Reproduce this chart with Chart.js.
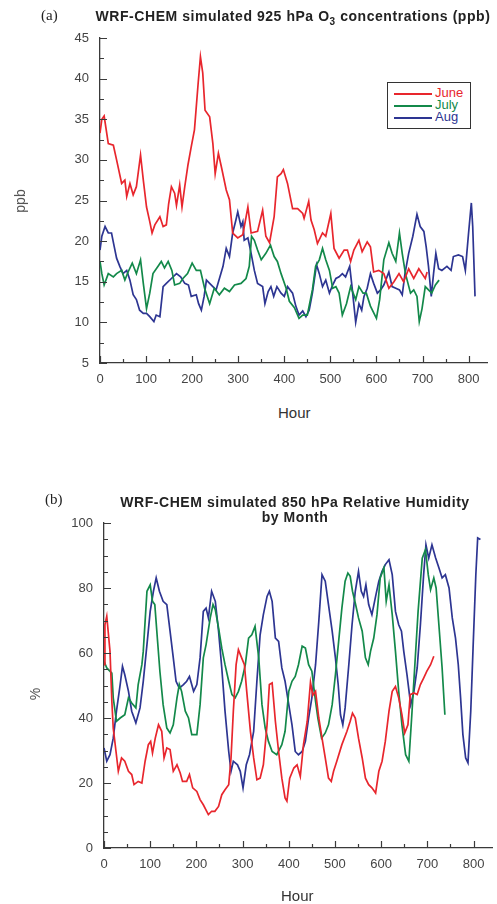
<!DOCTYPE html>
<html lang="en">
<head>
<meta charset="UTF-8">
<title>WRF-CHEM 925 hPa O3 and 850 hPa RH</title>
<script src="https://cdn.jsdelivr.net/npm/chart.js"></script>
<style>
  body { margin: 0; background: #fff; font-family: "Liberation Sans", Arial, sans-serif; color: #333; }
  #page { position: relative; width: 497px; height: 904px; overflow: hidden; }
  canvas { position: absolute; left: 0; }
  .lbl { position: absolute; white-space: nowrap; }
  .panel { font-family: "Liberation Serif", serif; font-size: 15px; color: #222; }
  .title { font-weight: bold; font-size: 14px; letter-spacing: 0.55px; color: #222; text-align: center; line-height: 15px; }
  .axis { font-size: 15px; font-weight: normal; color: #333; }
  .rot { transform: rotate(-90deg); transform-origin: center center; font-size: 14px; color: #555; }
  #legend { position: absolute; left: 387px; top: 82px; width: 82px; height: 45px; border: 1.5px solid #333; background: #fff; }
  #legend div { position: absolute; left: 6px; height: 12px; font-size: 13px; line-height: 12px; }
  #legend span.ln { display: inline-block; width: 38px; height: 2px; vertical-align: middle; margin-right: 3px; }
</style>
</head>
<body>
<div id="page">
  <canvas id="chartA" width="497" height="400" style="top:0"></canvas>
  <canvas id="chartB" width="497" height="434" style="top:470px"></canvas>

  <div class="lbl panel" style="left:41px; top:7px">(a)</div>
  <div class="lbl title" style="left:88px; width:410px; top:9px">WRF-CHEM simulated 925 hPa O<sub style="font-size:10px; line-height:0">3</sub> concentrations (ppb)</div>
  <div class="lbl axis rot" style="left:6px; top:193px; width:28px; text-align:center">ppb</div>
  <div class="lbl axis" style="left:278px; top:404px">Hour</div>

  <div class="lbl panel" style="left:45px; top:491px">(b)</div>
  <div class="lbl title" style="left:90px; width:410px; top:495px">WRF-CHEM simulated 850 hPa Relative Humidity<br>by Month</div>
  <div class="lbl axis rot" style="left:26px; top:686px; width:18px; text-align:center">%</div>
  <div class="lbl axis" style="left:281px; top:887px">Hour</div>

  <div id="legend"></div>
</div>
<script>
// colours of the three months
const monthNames = ['June', 'July', 'Aug'];
const monthColors = ['#e8262d', '#13894a', '#2d3592'];
const axisColor = '#3a3a3a';

// x axis (hours) ticks
const hourMax = 840;
const hourStep = 50;

// (a) 925 hPa O3, ppb
const juneO3Hours = [0,4,9,18,29,36,47,54,58,65,72,79,88,94,101,108,113,119,130,137,144,149,155,162,166,173,178,184,191,198,205,213,218,223,228,238,245,250,257,264,274,281,288,299,310,321,328,342,353,360,368,378,385,393,398,407,418,429,440,443,453,458,465,472,483,490,501,508,519,530,537,544,551,562,569,580,587,594,605,616,627,638,649,659,670,681,692,699,706,710];
const juneO3 = [33.3,35.0,35.4,32.0,31.8,30.0,27.1,27.5,25.5,27.1,25.7,26.7,30.6,27.5,24.2,22.4,21.0,22.0,23.0,21.8,22.0,24.6,26.7,25.9,24.4,26.9,24.2,26.7,29.4,31.6,33.7,39.4,42.7,40.7,36.1,35.3,32.0,28.3,30.8,29.0,26.3,25.1,21.0,20.4,20.8,24.2,21.0,21.2,23.8,20.6,19.8,23.0,27.9,28.3,28.8,27.1,24.0,24.0,23.4,22.8,24.9,22.6,21.4,19.7,21.0,20.6,23.4,19.1,17.9,18.9,18.9,17.5,18.9,20.1,18.7,19.9,19.3,16.2,16.4,16.0,14.2,15.0,16.0,15.0,16.6,15.4,16.6,16.0,15.4,16.2];

const julyO3Hours = [0,4,9,18,29,36,47,54,61,70,79,88,94,101,108,115,126,133,140,148,156,162,173,180,190,200,209,218,227,238,248,259,270,281,292,306,317,324,329,335,342,350,360,370,378,385,393,404,411,422,432,440,450,461,468,476,483,490,498,505,512,519,526,535,544,555,562,571,578,587,600,607,616,627,634,642,650,656,663,674,681,688,693,699,706,713,720,728,736];
const julyO3 = [17.5,16.0,14.6,16.0,15.6,16.0,16.4,15.2,16.2,17.3,16.0,17.7,14.8,11.7,13.6,16.0,16.9,17.5,16.7,17.5,16.4,14.6,14.8,15.4,16.0,17.3,16.4,16.4,14.2,12.3,14.2,13.4,14.2,13.8,14.6,14.8,15.4,16.9,20.6,20.1,18.9,17.7,18.5,19.5,18.1,17.5,16.0,14.2,12.6,11.8,10.5,10.9,10.9,14.0,16.9,17.7,19.1,17.7,16.4,14.2,14.4,13.6,10.9,12.3,14.4,12.8,14.4,13.6,13.6,12.0,10.5,12.8,17.7,19.8,18.5,17.5,21.0,18.5,16.0,13.6,14.0,13.2,10.1,11.7,14.4,14.0,13.6,14.6,15.2];

const augO3Hours = [0,4,11,18,25,31,36,43,50,58,65,72,79,86,94,101,108,117,122,130,137,144,155,166,175,184,192,198,209,214,220,226,231,238,252,267,274,281,288,295,299,306,310,313,321,328,335,342,353,358,365,371,377,384,393,400,407,418,425,432,440,447,454,461,470,476,483,490,498,505,512,519,526,533,542,547,555,562,568,573,580,587,594,602,609,616,623,627,634,642,650,656,662,670,679,688,695,703,708,713,719,724,729,735,742,753,762,767,778,787,793,800,806,809,814];
const augO3 = [18.9,20.6,21.8,21.0,21.0,19.3,17.9,16.9,16.0,16.4,15.2,13.4,12.8,11.5,11.1,11.1,10.7,10.1,10.9,10.7,14.4,14.8,15.4,16.0,15.6,14.8,14.6,13.2,13.4,12.3,11.5,13.2,15.2,14.8,14.0,16.9,19.1,18.1,21.0,22.6,23.6,21.8,22.4,20.1,20.4,18.5,16.4,14.8,14.4,12.3,13.8,14.4,13.2,14.4,13.6,13.2,14.4,13.6,12.0,10.9,11.4,10.7,11.5,13.6,17.1,16.0,14.4,15.2,13.6,14.6,15.4,15.6,16.0,15.6,16.9,14.4,10.0,12.3,11.5,13.2,14.2,16.0,14.8,13.6,14.0,14.6,15.6,16.2,14.4,14.2,14.0,13.4,16.0,18.5,20.6,23.3,21.8,21.2,19.3,16.9,13.2,16.0,18.5,16.6,16.4,16.9,16.4,18.1,18.3,18.1,16.4,21.0,24.7,21.8,13.2];

// (b) 850 hPa relative humidity, %
const juneRHHours = [0,2,6,9,13,17,20,26,31,38,45,53,60,65,74,82,89,96,101,105,111,118,125,130,136,143,150,158,165,170,179,185,192,201,208,215,226,233,240,248,255,262,270,275,280,286,291,298,304,309,317,324,331,338,345,353,358,364,371,378,385,392,396,402,411,418,425,432,440,447,452,458,465,472,479,486,492,497,504,515,526,533,538,544,551,559,566,573,580,588,595,602,609,617,624,631,638,645,651,658,663,671,678,685,692,699,707,714];
const juneRH = [56.4,68.7,71.3,66.7,60.5,45.1,36.9,29.7,23.6,27.7,26.7,23.6,22.6,19.5,20.5,20.0,26.7,31.8,32.8,29.2,33.8,37.9,35.9,27.7,30.8,30.3,23.6,25.6,23.1,20.5,20.5,22.6,18.5,17.4,14.9,13.3,10.3,11.3,11.3,12.8,16.4,17.9,19.5,27.7,42.1,56.4,61.0,58.5,56.4,48.2,35.9,27.7,21.0,21.5,25.6,37.9,50.3,50.8,39.0,29.7,21.5,15.4,14.4,21.5,24.6,25.6,22.0,32.0,39.0,51.0,47.0,48.2,40.0,33.8,27.7,21.5,20.5,23.6,26.7,31.8,35.9,39.0,41.5,40.0,33.8,27.7,21.5,19.5,18.5,16.9,23.6,26.7,32.8,42.1,48.2,49.7,46.2,41.0,35.4,37.9,47.2,47.7,47.2,50.3,52.3,54.4,56.4,59.0];

const julyRHHours = [0,6,17,20,27,35,45,53,60,69,74,82,85,93,100,105,110,116,121,128,136,143,150,158,163,168,176,183,190,201,208,215,221,230,236,241,248,255,262,270,277,284,291,298,306,313,320,327,335,342,349,356,364,374,385,392,400,407,414,421,429,436,443,450,458,463,471,479,486,494,501,508,515,522,528,533,538,544,551,559,566,572,577,584,591,598,606,611,617,624,631,638,645,653,660,666,673,680,689,696,702,707,714,719,725,732,738];
const julyRH = [57.4,55.4,53.8,46.2,39.0,40.0,41.0,46.2,44.6,43.1,50.3,56.4,60.5,79.0,81.0,75.9,74.9,63.6,54.4,44.1,36.9,35.4,37.9,46.2,50.3,48.2,42.1,40.0,34.9,34.9,44.1,58.5,62.6,70.8,74.9,73.3,67.7,61.5,56.4,51.3,47.2,46.2,48.2,51.3,56.4,64.6,65.6,68.2,58.5,44.1,36.9,32.8,29.7,28.7,31.8,35.9,48.2,51.3,52.8,56.4,62.1,61.5,56.4,54.4,45.1,40.0,33.8,35.4,37.9,44.1,53.3,63.6,73.8,82.1,84.6,83.6,79.0,75.4,70.8,66.7,58.5,56.4,60.5,64.6,71.8,83.1,86.2,75.9,81.0,71.8,60.5,48.2,37.9,28.7,26.7,40.0,56.4,72.8,89.2,91.8,84.1,79.5,83.1,80.0,68.7,55.4,41.0];

const augRHHours = [0,6,13,20,27,35,40,45,53,60,69,78,85,93,100,107,113,120,128,136,143,150,156,163,172,179,185,194,201,208,215,221,226,233,241,248,255,262,270,275,280,289,295,301,308,315,324,331,338,345,353,358,364,371,378,385,392,400,407,414,421,429,436,443,450,458,465,472,479,486,494,501,507,512,517,522,530,537,544,551,557,562,567,573,580,588,595,602,609,617,624,631,638,644,649,656,664,671,678,685,692,697,703,710,718,725,732,739,747,754,761,767,772,777,783,788,794,799,805,809,815];
const augRH = [30.8,26.7,28.7,33.8,42.1,50.3,55.9,53.3,48.2,42.1,38.5,43.1,51.3,62.6,72.8,79.0,83.1,79.0,75.9,74.9,66.7,58.5,51.3,49.2,50.3,51.3,52.8,48.2,50.3,58.5,72.8,73.8,70.8,79.0,75.9,66.7,55.4,42.1,29.7,23.6,26.7,25.6,23.6,18.5,25.6,28.7,35.9,51.3,65.6,71.8,77.4,79.0,75.9,64.6,63.6,55.4,51.3,44.1,37.9,29.7,28.7,29.7,32.8,40.0,46.2,56.4,69.7,84.1,82.1,74.9,66.7,58.5,50.3,41.0,37.9,43.1,56.4,68.7,79.0,85.1,79.0,77.4,81.0,74.9,71.8,77.4,82.1,85.1,87.2,88.7,84.1,72.8,68.7,66.7,60.5,53.3,44.1,48.2,55.4,68.7,84.1,93.3,89.2,93.3,89.2,86.2,83.1,84.1,80.0,70.8,64.6,56.4,46.2,34.9,27.7,26.2,42.1,61.5,84.1,95.4,94.9];

function toPoints(hours, values) {
  return hours.map((h, i) => ({ x: h, y: values[i] }));
}

function makeDatasets(seriesHours, seriesValues) {
  return monthNames.map((name, i) => ({
    label: name,
    data: toPoints(seriesHours[i], seriesValues[i]),
    borderColor: monthColors[i],
    borderWidth: 1.7,
    pointRadius: 0,
    tension: 0,
    fill: false
  }));
}

// tick marks drawn inside the plot, longer on labelled values
const inwardTicks = {
  id: 'inwardTicks',
  afterDatasetsDraw(chart, args, opts) {
    const { ctx, chartArea } = chart;
    const xs = chart.scales.x, ys = chart.scales.y;
    ctx.save();
    ctx.strokeStyle = axisColor;
    ctx.lineWidth = 1.2;
    ctx.beginPath();
    xs.ticks.forEach(t => {
      const px = Math.round(xs.getPixelForValue(t.value)) + 0.5;
      const len = t.value % opts.xMajor === 0 ? 7 : 4;
      ctx.moveTo(px, chartArea.bottom);
      ctx.lineTo(px, chartArea.bottom - len);
    });
    ys.ticks.forEach(t => {
      const py = Math.round(ys.getPixelForValue(t.value)) + 0.5;
      const len = t.value % opts.yMajor === 0 ? 7 : 4;
      ctx.moveTo(chartArea.left, py);
      ctx.lineTo(chartArea.left + len, py);
    });
    ctx.stroke();
    ctx.restore();
  }
};

function makeChart(id, datasets, box, yRange) {
  const tickFont = { family: '"Liberation Sans", Arial, sans-serif', size: 13 };
  return new Chart(document.getElementById(id), {
    type: 'line',
    data: { datasets: datasets },
    options: {
      responsive: false,
      animation: false,
      events: [],
      layout: { padding: { top: box.top, right: box.right, left: 0, bottom: 0 } },
      plugins: {
        legend: { display: false },
        tooltip: { enabled: false },
        inwardTicks: { xMajor: 100, yMajor: yRange.major }
      },
      scales: {
        x: {
          type: 'linear',
          min: 0,
          max: hourMax,
          grid: { display: false, drawTicks: false },
          border: { display: true, color: axisColor, width: 1.3 },
          ticks: {
            stepSize: hourStep,
            includeBounds: false,
            autoSkip: false,
            maxRotation: 0,
            padding: 9,
            color: '#444',
            font: tickFont,
            callback: v => (v % 100 === 0 ? String(v) : '')
          },
          afterFit: s => { s.height = box.xHeight; }
        },
        y: {
          min: yRange.min,
          max: yRange.max,
          grid: { display: false, drawTicks: false },
          border: { display: true, color: axisColor, width: 1.3 },
          ticks: {
            stepSize: yRange.step,
            autoSkip: false,
            padding: 11,
            color: '#444',
            font: tickFont,
            callback: v => (v % yRange.label === 0 ? String(v) : '')
          },
          afterFit: s => { s.width = box.yWidth; }
        }
      }
    },
    plugins: [inwardTicks]
  });
}

makeChart('chartA',
  makeDatasets([juneO3Hours, julyO3Hours, augO3Hours], [juneO3, julyO3, augO3]),
  { top: 38, right: 10, xHeight: 37, yWidth: 100 },
  { min: 5, max: 45, step: 2.5, label: 5, major: 5 });

makeChart('chartB',
  makeDatasets([juneRHHours, julyRHHours, augRHHours], [juneRH, julyRH, augRH]),
  { top: 53, right: 5, xHeight: 56, yWidth: 104 },
  { min: 0, max: 100, step: 5, label: 20, major: 20 });

// legend box inside panel (a)
const legend = document.getElementById('legend');
monthNames.forEach((name, i) => {
  const row = document.createElement('div');
  row.style.top = (4 + i * 12) + 'px';
  row.style.color = monthColors[i];
  row.innerHTML = '<span class="ln" style="background:' + monthColors[i] + '"></span>' + name;
  legend.appendChild(row);
});
</script>
</body>
</html>
